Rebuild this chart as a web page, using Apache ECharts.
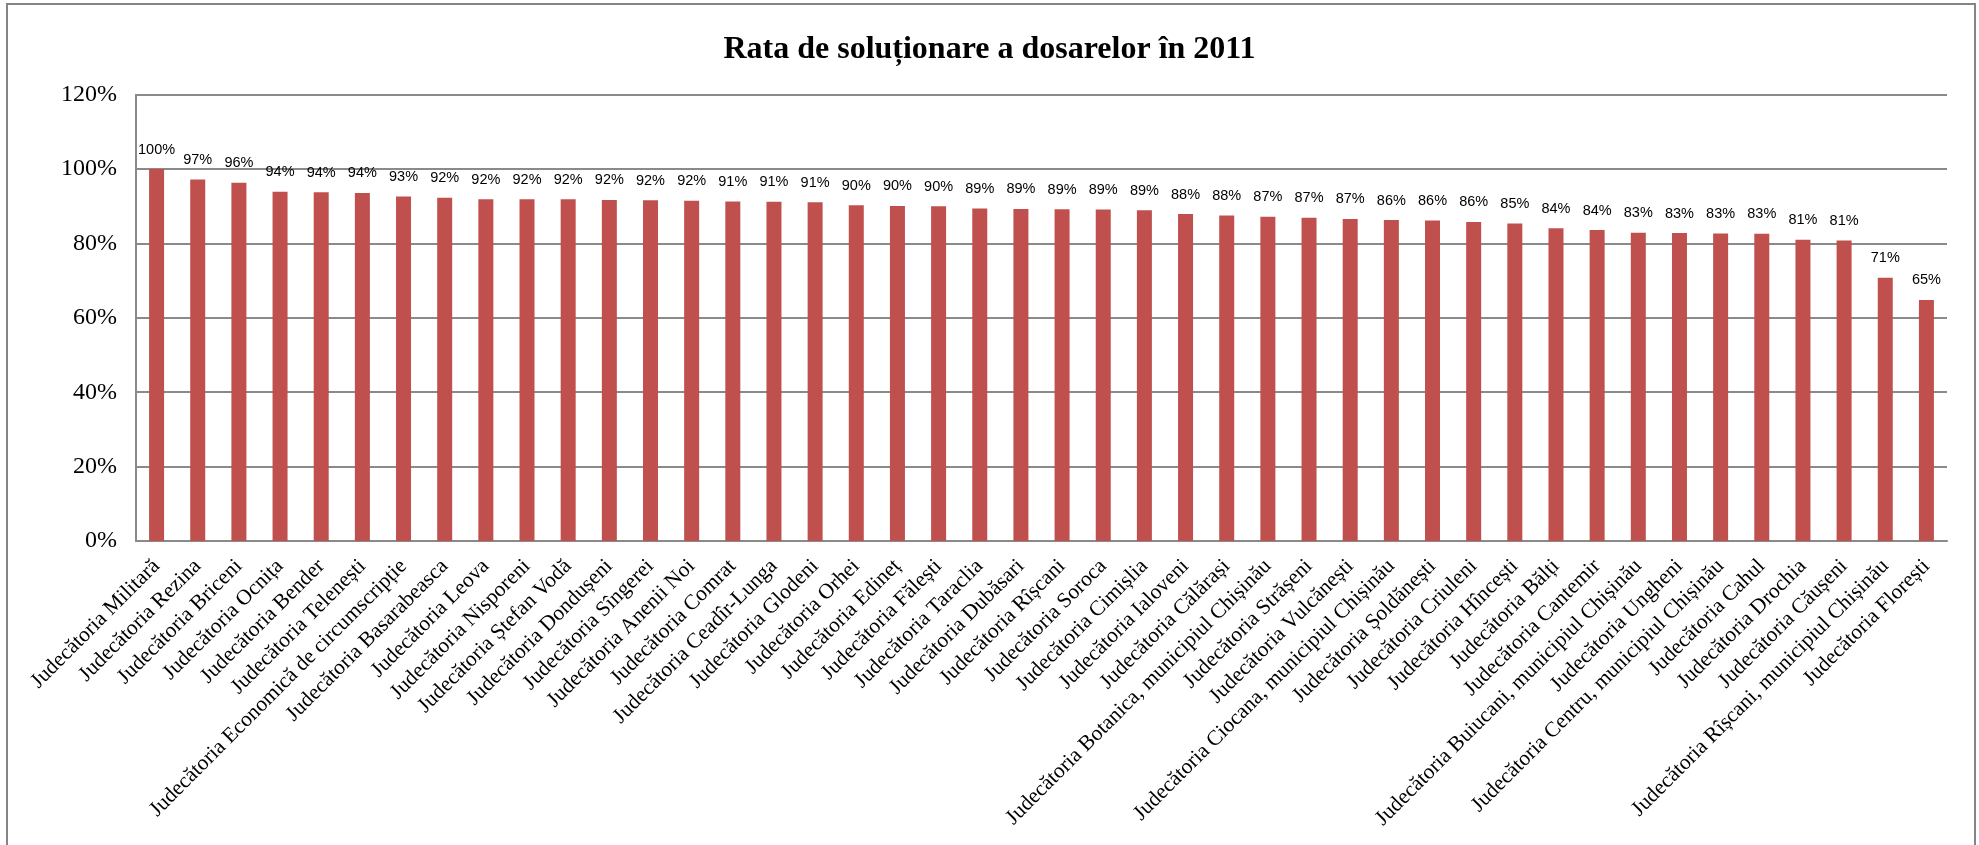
<!DOCTYPE html>
<html>
<head>
<meta charset="utf-8">
<script src="https://cdn.jsdelivr.net/npm/echarts@6/dist/echarts.min.js"></script>
<style>
html,body{margin:0;padding:0;background:#fff;}
#chart{width:1979px;height:845px;}
</style>
</head>
<body>
<div id="chart"></div>
<script>
const chartTitle = 'Rata de soluționare a dosarelor în 2011';
const categories = [
 'Judecătoria Militară','Judecătoria Rezina','Judecătoria Briceni','Judecătoria Ocnița','Judecătoria Bender',
 'Judecătoria Telenești','Judecătoria Economică de circumscripție','Judecătoria Basarabeasca','Judecătoria Leova',
 'Judecătoria Nisporeni','Judecătoria Ștefan Vodă','Judecătoria Dondușeni','Judecătoria Sîngerei','Judecătoria Anenii Noi',
 'Judecătoria Comrat','Judecătoria Ceadîr-Lunga','Judecătoria Glodeni','Judecătoria Orhei','Judecătoria Edineț',
 'Judecătoria Fălești','Judecătoria Taraclia','Judecătoria Dubăsari','Judecătoria Rîșcani','Judecătoria Soroca',
 'Judecătoria Cimișlia','Judecătoria Ialoveni','Judecătoria Călărași','Judecătoria Botanica, municipiul Chișinău',
 'Judecătoria Strășeni','Judecătoria Vulcănești','Judecătoria Ciocana, municipiul Chișinău','Judecătoria Șoldănești',
 'Judecătoria Criuleni','Judecătoria Hîncești','Judecătoria Bălți','Judecătoria Cantemir',
 'Judecătoria Buiucani, municipiul Chișinău','Judecătoria Ungheni','Judecătoria Centru, municipiul Chișinău',
 'Judecătoria Cahul','Judecătoria Drochia','Judecătoria Căușeni','Judecătoria Rîșcani, municipiul Chișinău',
 'Judecătoria Florești'
];
const rates = [
 100, 97.2, 96.3, 93.9, 93.8, 93.6, 92.6, 92.3, 91.9, 91.9, 91.9, 91.7, 91.6, 91.5,
 91.3, 91.2, 91.1, 90.3, 90.1, 90.0, 89.4, 89.3, 89.2, 89.1, 88.9, 87.9, 87.5, 87.2,
 86.9, 86.6, 86.3, 86.2, 85.8, 85.4, 84.1, 83.6, 82.9, 82.8, 82.7, 82.6, 81.0, 80.8,
 70.8, 64.8
];
const yTicks = [0, 20, 40, 60, 80, 100, 120];

const chart = echarts.init(document.getElementById('chart'), null, {renderer:'canvas'});
chart.setOption({
  backgroundColor:'#ffffff',
  animation:false,
  title:{
    text: chartTitle, left:'center', top:29,
    textStyle:{fontFamily:'Liberation Serif', fontWeight:'bold', fontSize:32, color:'#000'}
  },
  graphic:[{
    type:'rect', shape:{x:7, y:4, width:1968, height:860},
    style:{fill:'none', stroke:'#858585', lineWidth:2}, silent:true
  }],
  grid:{left:136, right:32, top:94.7, bottom:304, outerBoundsMode:'none', containLabel:false},
  xAxis:{
    type:'category', data:categories,
    axisLine:{show:true, lineStyle:{color:'#8a8a8a', width:2}},
    axisTick:{show:false},
    axisLabel:{rotate:45, interval:0, margin:22, fontFamily:'Liberation Serif', fontSize:21.5, color:'#000'}
  },
  yAxis:{
    type:'value', min:0, max:120, interval:20,
    axisLine:{show:true, lineStyle:{color:'#8a8a8a', width:2}},
    axisTick:{show:false},
    splitLine:{show:true, lineStyle:{color:'#8a8a8a', width:2}},
    axisLabel:{margin:19, fontFamily:'Liberation Serif', fontSize:24, color:'#000',
      formatter:function(v){ return yTicks.indexOf(v)>=0 ? v+'%' : ''; }}
  },
  series:[{
    type:'bar', data:rates, barWidth:15,
    itemStyle:{color:'#C0504D'},
    label:{show:true, position:'top', distance:12, fontFamily:'Liberation Sans', fontSize:14.5, color:'#000',
      formatter:function(p){ return Math.round(p.value)+'%'; }}
  }]
});
</script>
</body>
</html>
